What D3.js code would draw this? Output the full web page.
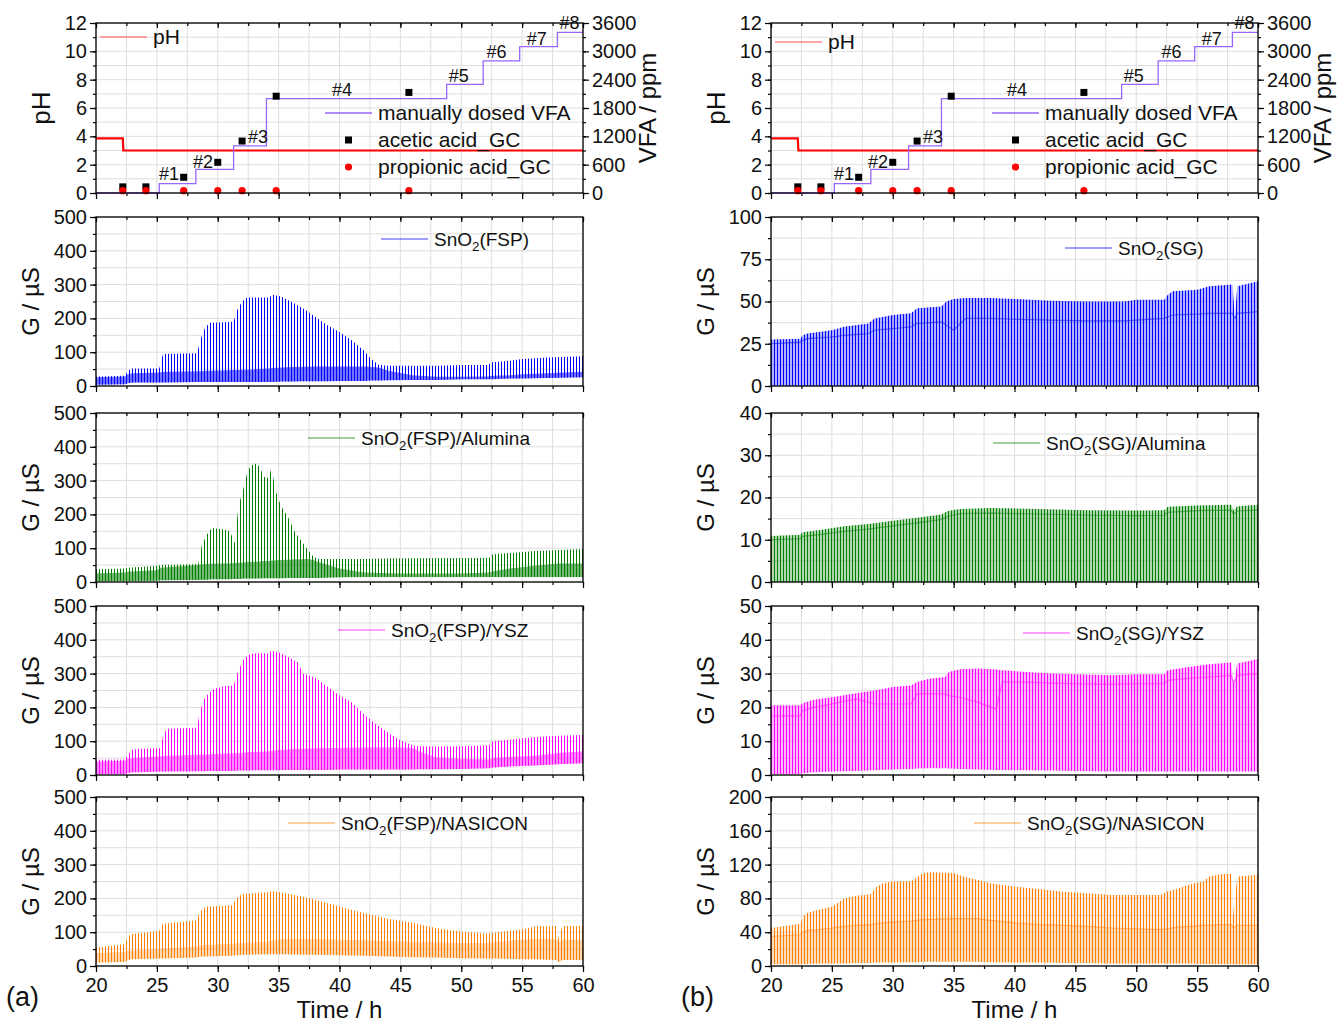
<!DOCTYPE html>
<html>
<head>
<meta charset="utf-8">
<script src="https://cdn.jsdelivr.net/npm/d3@7"></script>
<style>
body { margin: 0; background: #fff; }
svg { font-family: "Liberation Sans", Arial, sans-serif; }
</style>
</head>
<body>
<svg id="chart" width="1338" height="1023"></svg>
<script>
// ---- data ----
var timeTicks = [20, 25, 30, 35, 40, 45, 50, 55, 60];

// pH of the reactor and dosed VFA (ppm)
var phTrace = [[20, 3.85], [22.2, 3.85], [22.25, 3.0], [60, 3.0]];
var vfaSteps = [[20, 0], [25.2, 200], [28.2, 500], [31.3, 1000], [34.0, 2000],
                [48.8, 2300], [51.8, 2800], [54.8, 3100], [57.9, 3400], [60, 3400]];
var doseLabels = [["#1", 26.0, 1.4], ["#2", 28.8, 2.2], ["#3", 33.3, 4.0], ["#4", 40.2, 7.3],
                  ["#5", 49.8, 8.3], ["#6", 52.9, 10.0], ["#7", 56.2, 10.9], ["#8", 58.9, 12.0]];
var aceticGC = [[22.2, 130], [24.1, 130], [27.2, 333], [30.0, 650], [32.0, 1100], [34.8, 2050], [45.7, 2130]];
var propionicGC = [[22.2, 50], [24.1, 50], [27.2, 50], [30.0, 50], [32.0, 50], [34.8, 50], [45.7, 50]];

// sensor signals: [time, spike top, dense band top, baseline]
var fspBare = [
  [20, 28, 26, 4], [22.4, 30, 28, 5], [22.6, 45, 35, 8], [23.0, 52, 38, 10], [25.2, 52, 40, 10],
  [25.5, 95, 42, 10], [28.3, 97, 44, 12], [28.6, 140, 44, 12], [29.0, 175, 45, 12], [29.4, 187, 45, 12],
  [31.3, 190, 47, 12], [31.6, 225, 47, 12], [32.0, 250, 48, 12], [32.4, 262, 48, 12], [34.2, 262, 52, 12],
  [34.5, 270, 53, 12], [35.2, 265, 55, 13], [36.0, 250, 56, 13], [37.0, 230, 57, 14], [38.0, 205, 58, 14],
  [39.0, 180, 58, 14], [40.0, 160, 58, 15], [41.0, 135, 58, 15], [42.0, 105, 58, 15], [42.6, 80, 57, 16],
  [43.2, 63, 55, 16], [44.0, 60, 45, 17], [46.0, 60, 32, 18], [48.0, 60, 27, 18], [50.0, 62, 27, 20],
  [52.2, 62, 28, 20], [52.5, 70, 30, 20], [54.0, 75, 32, 22], [55.0, 80, 35, 22], [57.0, 84, 38, 24],
  [60.0, 88, 42, 26]];
var fspAlumina = [
  [20, 38, 25, 2], [22.4, 40, 28, 3], [22.6, 42, 30, 3], [25.0, 48, 35, 4], [25.3, 50, 42, 5],
  [28.4, 53, 50, 6], [28.7, 110, 52, 7], [29.1, 140, 53, 7], [29.5, 160, 54, 8], [30.5, 155, 55, 8],
  [31.0, 150, 55, 8], [31.4, 115, 56, 9], [31.7, 225, 57, 9], [32.1, 275, 58, 10], [32.4, 320, 59, 10],
  [32.7, 345, 60, 10], [33.1, 350, 60, 10], [33.5, 340, 61, 10], [33.7, 312, 62, 11], [34.2, 308, 62, 11],
  [34.4, 338, 63, 11], [34.8, 265, 64, 11], [35.2, 225, 65, 11], [35.8, 190, 66, 12], [36.3, 150, 67, 12],
  [36.8, 125, 67, 12], [37.3, 100, 68, 12], [37.8, 78, 66, 12], [38.2, 68, 60, 12], [40.0, 68, 40, 14],
  [42.0, 68, 28, 15], [45.0, 70, 25, 15], [50.0, 71, 25, 15], [52.3, 72, 28, 15], [52.6, 82, 32, 15],
  [54.0, 86, 40, 15], [56.0, 92, 48, 15], [58.0, 95, 55, 15], [60.0, 98, 55, 15]];
var fspYsz = [
  [20, 45, 40, 2], [22.4, 46, 42, 3], [22.6, 60, 48, 6], [23.0, 75, 50, 8], [23.5, 78, 52, 8],
  [25.3, 79, 55, 10], [25.5, 115, 56, 10], [25.8, 137, 57, 10], [28.3, 140, 60, 11], [28.5, 180, 60, 11],
  [28.8, 220, 61, 11], [29.2, 240, 61, 12], [29.7, 255, 62, 12], [30.6, 263, 63, 12], [31.3, 265, 64, 12],
  [31.7, 310, 65, 13], [32.1, 340, 66, 13], [32.5, 355, 67, 13], [33.0, 360, 68, 14], [34.2, 360, 70, 14],
  [34.4, 368, 72, 14], [35.0, 363, 74, 14], [35.5, 355, 75, 15], [36.0, 345, 76, 15], [36.6, 333, 77, 15],
  [37.0, 300, 78, 15], [38.0, 288, 79, 15], [39.0, 262, 80, 15], [40.0, 235, 80, 16], [41.0, 215, 81, 16],
  [42.0, 180, 81, 16], [43.0, 150, 82, 16], [44.0, 125, 82, 16], [45.0, 103, 82, 16], [46.0, 88, 80, 16],
  [46.5, 85, 70, 17], [48.0, 84, 52, 17], [50.0, 85, 48, 18], [52.3, 88, 46, 20], [52.6, 100, 50, 22],
  [54.0, 105, 53, 25], [56.0, 112, 57, 28], [58.0, 116, 65, 32], [60.0, 118, 70, 35]];
var fspNasicon = [
  [20, 55, 38, 10], [22.4, 65, 42, 12], [22.6, 88, 45, 18], [23.0, 95, 46, 20], [25.2, 104, 50, 22],
  [25.5, 125, 52, 22], [28.3, 135, 58, 25], [28.5, 160, 60, 27], [29.0, 175, 62, 28], [31.2, 180, 66, 30],
  [31.5, 200, 67, 32], [32.0, 213, 68, 33], [34.0, 218, 72, 35], [34.5, 222, 76, 35], [35.5, 216, 80, 35],
  [37.0, 205, 80, 33], [38.0, 196, 80, 33], [40.0, 176, 78, 32], [42.0, 157, 76, 30], [44.0, 140, 74, 28],
  [46.0, 128, 72, 26], [48.0, 112, 70, 25], [50.0, 102, 68, 23], [52.0, 96, 68, 22], [53.0, 100, 72, 22],
  [55.0, 108, 78, 20], [56.0, 117, 80, 20], [57.8, 118, 80, 18], [58.0, 80, 70, 12], [58.3, 118, 78, 18],
  [60.0, 118, 78, 18]];
var sgBare = [
  [20, 27.5, 25, 0], [22.4, 28, 26, 0], [22.6, 30, 27, 0], [23.0, 31, 28, 0], [25.0, 33, 29, 0],
  [26.0, 35, 30, 0], [28.0, 37, 31, 0], [28.5, 40, 33, 0.5], [30.0, 42, 34, 0.5], [31.5, 43, 35, 0.5],
  [32.0, 46, 37, 0.5], [34.0, 47, 38, 0.5], [34.4, 50, 36, 0.5], [35.0, 51.5, 33, 0.5], [36.0, 52, 40, 0.5],
  [38.0, 52, 40, 0.5], [40.0, 51.5, 39.5, 0.5], [43.0, 50.5, 39, 0.5], [46.0, 50, 38.5, 0.5], [49.0, 50, 38.5, 0.5],
  [50.0, 51, 39, 0.5], [52.3, 51, 40, 0.5], [52.6, 54, 41, 0.5], [53.0, 56, 42, 0.5], [55.0, 57, 42.5, 0.5],
  [56.0, 59, 43, 0.5], [57.9, 60, 43, 0.5], [58.1, 40, 40, 0.5], [58.3, 59, 43, 0.5], [60.0, 62, 44, 0.5]];
var sgAlumina = [
  [20, 10.9, 10, 0], [22.4, 11.2, 10.3, 0], [22.6, 11.8, 10.8, 0], [24.0, 12.3, 11.2, 0], [26.0, 13.2, 12, 0],
  [28.0, 13.7, 12.5, 0], [30.0, 14.5, 13.3, 0], [32.0, 15.2, 14, 0], [34.0, 16.0, 14.8, 0], [34.5, 16.8, 15.5, 0],
  [35.5, 17.3, 16.2, 0], [38.0, 17.5, 16.3, 0], [42.0, 17.3, 16.1, 0], [46.0, 17.0, 15.8, 0], [50.0, 16.9, 15.7, 0],
  [52.3, 17.0, 15.8, 0], [52.6, 17.8, 16.5, 0], [55.0, 18.1, 16.9, 0], [57.8, 18.3, 17, 0], [58.0, 17.0, 16, 0],
  [58.3, 17.9, 16.8, 0], [60.0, 18.3, 17, 0]];
var sgYsz = [
  [20, 20.6, 17.5, 0.3], [22.4, 20.6, 17.5, 0.3], [22.6, 21.2, 19, 0.5], [23.5, 22.3, 20, 0.8], [25.0, 23.0, 21, 1.0],
  [27.0, 24.2, 22.5, 1.2], [28.5, 25.0, 21, 1.4], [30.0, 26.0, 21, 1.6], [31.5, 26.5, 21, 1.8], [32.0, 27.5, 24, 1.9],
  [33.0, 28.5, 24, 2.0], [34.3, 29.0, 24, 2.0], [34.6, 30.5, 23.5, 1.9], [35.5, 31.3, 23, 1.8], [37.0, 31.5, 21.5, 1.6],
  [38.5, 31.2, 19.5, 1.5], [39.0, 31.0, 27.5, 1.5], [41.0, 30.5, 27.5, 1.4], [43.0, 30.0, 27.2, 1.3], [45.0, 29.8, 27, 1.2],
  [48.0, 29.5, 26.8, 1.0], [50.0, 29.8, 27, 1.0], [52.3, 29.8, 27, 1.0], [52.6, 31.0, 28, 1.0], [54.0, 31.8, 28.5, 1.0],
  [56.0, 32.8, 29, 1.0], [57.8, 33.3, 29.5, 1.0], [58.0, 27.0, 27, 1.0], [58.3, 33.0, 29.5, 1.0], [60.0, 34.3, 30, 1.0]];
var sgNasicon = [
  [20, 45, 35, 2], [22.4, 50, 37, 2], [22.6, 58, 40, 2.5], [23.0, 63, 42, 2.5], [24.0, 67, 43, 3],
  [25.0, 70, 45, 3], [25.5, 75, 46, 3], [26.0, 80, 47, 3], [27.0, 83, 48, 3.5], [28.2, 85, 49, 3.5],
  [28.6, 93, 50, 4], [29.2, 98, 51, 4], [30.0, 100, 52, 4], [31.5, 100, 53, 4.5], [32.0, 105, 54, 4.5],
  [32.5, 110, 55, 5], [33.0, 111, 55, 5], [35.0, 110, 56, 5], [36.0, 105, 56, 5], [37.0, 102, 56, 5],
  [38.0, 98, 54, 4.5], [40.0, 94, 51, 4], [42.0, 91, 49, 4], [44.0, 88, 48, 3.5], [46.0, 86, 47, 3.5],
  [48.0, 84, 45, 3], [50.0, 84, 44, 3], [52.0, 84, 43, 3], [52.5, 88, 44, 3], [53.5, 92, 46, 3],
  [54.5, 97, 47, 3], [55.5, 100, 48, 2.5], [56.0, 106, 48, 2.5], [57.0, 109, 49, 2.5], [57.8, 109, 49, 2.5],
  [58.0, 60, 45, 2], [58.3, 106, 48, 2], [60.0, 108, 48, 2]];

var fspNames = ["SnO2(FSP)", "SnO2(FSP)/Alumina", "SnO2(FSP)/YSZ", "SnO2(FSP)/NASICON"];
var sgNames = ["SnO2(SG)", "SnO2(SG)/Alumina", "SnO2(SG)/YSZ", "SnO2(SG)/NASICON"];
var fspTicks = [0, 100, 200, 300, 400, 500];
var sgTicks = [[0, 25, 50, 75, 100], [0, 10, 20, 30, 40], [0, 10, 20, 30, 40, 50], [0, 40, 80, 120, 160, 200]];

// ---- layout ----
var svg = d3.select("#chart");
var defs = svg.append("defs");
var rows = [[23, 193], [217, 386], [413, 582], [606, 775], [797, 966]];
var colors = ["#0000ff", "#008000", "#ff00ff", "#ff8000"];
var FONT = "Liberation Sans, Arial, sans-serif";

var columns = [
  { x0: 96, x1: 583, tag: "(a)", data: [fspBare, fspAlumina, fspYsz, fspNasicon], names: fspNames,
    ticks: [fspTicks, fspTicks, fspTicks, fspTicks], tint: [0, 0, 0, 0], band: [0.55, 0.55, 0.45, 0.3], midLine: false,
    legends: [[381, 239], [308, 438], [338, 630], [288, 823]], topLeg: [37, 229] },
  { x0: 771, x1: 1258, tag: "(b)", data: [sgBare, sgAlumina, sgYsz, sgNasicon], names: sgNames,
    ticks: sgTicks, tint: [0.3, 0.3, 0.28, 0.12], band: [0, 0, 0, 0.15], midLine: true,
    legends: [[1065, 248], [993, 443], [1023, 633], [974, 823]], topLeg: [42, 221] }
];

function styleAxis(g, size) {
  g.attr("font-size", size).attr("font-family", FONT);
  g.select(".domain").remove();
  g.selectAll("line").attr("stroke", "#000").attr("stroke-width", 1.2);
  g.selectAll("text").attr("fill", "#111");
}

function drawFrame(g, w, h, y, majors, minors, showX, x) {
  var minorX = d3.range(20, 60.01, 2.5);
  // grid
  g.append("g").selectAll("line.vg").data(minorX).enter().append("line")
    .attr("x1", function(d) { return x(d); }).attr("x2", function(d) { return x(d); })
    .attr("y1", 0).attr("y2", h).attr("stroke", "#dedede").attr("stroke-width", 1);
  g.append("g").selectAll("line.hg").data(minors).enter().append("line")
    .attr("x1", 0).attr("x2", w)
    .attr("y1", function(d) { return y(d); }).attr("y2", function(d) { return y(d); })
    .attr("stroke", "#dedede").attr("stroke-width", 1);

  var ax = g.append("g").attr("class", "axes");
  ax.append("g").call(d3.axisLeft(y).tickValues(majors).tickSize(6).tickPadding(3)).call(styleAxis, 20);
  ax.append("g").call(d3.axisLeft(y).tickValues(minors).tickSize(3).tickFormat("")).call(styleAxis, 20);
  var xb = d3.axisBottom(x).tickValues(timeTicks).tickSize(6).tickPadding(6);
  if (!showX) xb.tickFormat("");
  ax.append("g").attr("transform", "translate(0," + h + ")").call(xb).call(styleAxis, 20);
  ax.append("g").attr("transform", "translate(0," + h + ")")
    .call(d3.axisBottom(x).tickValues(minorX).tickSize(3).tickFormat("")).call(styleAxis, 20);
  ax.append("g").call(d3.axisBottom(x).tickValues(timeTicks).tickSize(5).tickFormat("")).call(styleAxis, 20);
  ax.append("g").call(d3.axisBottom(x).tickValues(minorX).tickSize(3).tickFormat("")).call(styleAxis, 20);
  return ax;
}

function subLabel(sel, label) {
  var i = label.indexOf("2");
  sel.append("tspan").text(label.slice(0, i));
  sel.append("tspan").text("2").attr("font-size", "0.7em").attr("dy", 5);
  sel.append("tspan").text(label.slice(i + 1)).attr("dy", -5);
}

columns.forEach(function(col, ci) {
  var w = col.x1 - col.x0;
  var x = d3.scaleLinear().domain([20, 60]).range([0, w]);

  // ---- top panel: pH + VFA ----
  var top = rows[0][0], h0 = rows[0][1] - rows[0][0];
  var gp = svg.append("g").attr("transform", "translate(" + col.x0 + "," + top + ")");
  var yPh = d3.scaleLinear().domain([0, 12]).range([h0, 0]);
  var yVfa = d3.scaleLinear().domain([0, 3600]).range([h0, 0]);
  var axp = drawFrame(gp, w, h0, yPh, [0, 2, 4, 6, 8, 10, 12], d3.range(0, 12.01, 1), false, x);
  axp.append("g").attr("transform", "translate(" + w + ",0)")
    .call(d3.axisRight(yVfa).tickValues(d3.range(0, 3601, 600)).tickSize(6).tickPadding(3).tickFormat(d3.format("d")))
    .call(styleAxis, 20);
  axp.append("g").attr("transform", "translate(" + w + ",0)")
    .call(d3.axisRight(yVfa).tickValues(d3.range(0, 3601, 300)).tickSize(3).tickFormat("")).call(styleAxis, 20);

  gp.append("path").datum(phTrace)
    .attr("d", d3.line().x(function(d) { return x(d[0]); }).y(function(d) { return yPh(d[1]); }))
    .attr("fill", "none").attr("stroke", "#ff0000").attr("stroke-width", 2.2);
  gp.append("path").datum(vfaSteps)
    .attr("d", d3.line().curve(d3.curveStepAfter).x(function(d) { return x(d[0]); }).y(function(d) { return yVfa(d[1]); }))
    .attr("fill", "none").attr("stroke", "#9966ff").attr("stroke-width", 1.3);
  gp.selectAll("rect.ac").data(aceticGC).enter().append("rect")
    .attr("x", function(d) { return x(d[0]) - 3.5; }).attr("y", function(d) { return yVfa(d[1]) - 3.5; })
    .attr("width", 7).attr("height", 7).attr("fill", "#000");
  gp.selectAll("circle.pr").data(propionicGC).enter().append("circle")
    .attr("cx", function(d) { return x(d[0]); }).attr("cy", function(d) { return yVfa(d[1]); })
    .attr("r", 3.6).attr("fill", "#ff0000");
  gp.selectAll("text.dose").data(doseLabels).enter().append("text")
    .attr("x", function(d) { return x(d[1]); }).attr("y", function(d) { return yPh(d[2]); })
    .attr("dy", "0.36em").attr("text-anchor", "middle").attr("font-size", 18).attr("fill", "#111")
    .text(function(d) { return d[0]; });
  gp.append("rect").attr("width", w).attr("height", h0).attr("fill", "none").attr("stroke", "#000").attr("stroke-width", 1.3);

  // legend of top panel
  var ly = col.topLeg[0], lx = col.topLeg[1];
  gp.append("line").attr("x1", 4).attr("x2", 51).attr("y1", ly - top).attr("y2", ly - top)
    .attr("stroke", "#ff5050").attr("stroke-width", 1);
  gp.append("text").attr("x", 57).attr("y", ly - top + 7).attr("font-size", 21).attr("fill", "#111").text("pH");
  var leg = [["manually dosed VFA", 113], ["acetic acid_GC", 140], ["propionic acid_GC", 167]];
  leg.forEach(function(l, i) {
    var yy = l[1] - top;
    if (i === 0) gp.append("line").attr("x1", lx).attr("x2", lx + 47).attr("y1", yy).attr("y2", yy)
      .attr("stroke", "#9966ff").attr("stroke-width", 1.3);
    if (i === 1) gp.append("rect").attr("x", lx + 20).attr("y", yy - 3.5).attr("width", 7).attr("height", 7).attr("fill", "#000");
    if (i === 2) gp.append("circle").attr("cx", lx + 23.5).attr("cy", yy).attr("r", 3.6).attr("fill", "#ff0000");
    gp.append("text").attr("x", lx + 53).attr("y", yy + 7).attr("font-size", 21).attr("fill", "#111").text(l[0]);
  });

  svg.append("text").attr("transform", "translate(" + (col.x0 - 46) + "," + ((rows[0][0] + rows[0][1]) / 2) + ") rotate(-90)")
    .attr("text-anchor", "middle").attr("font-size", 26).attr("fill", "#111").text("pH");
  svg.append("text").attr("transform", "translate(" + (col.x1 + 73) + "," + ((rows[0][0] + rows[0][1]) / 2) + ") rotate(-90)")
    .attr("text-anchor", "middle").attr("font-size", 24).attr("fill", "#111").text("VFA / ppm");

  // ---- sensor panels ----
  col.data.forEach(function(data, si) {
    var r = rows[si + 1], h = r[1] - r[0];
    var ticks = col.ticks[si], step = ticks[1] - ticks[0], yMax = ticks[ticks.length - 1];
    var y = d3.scaleLinear().domain([0, yMax]).range([h, 0]);
    var g = svg.append("g").attr("transform", "translate(" + col.x0 + "," + r[0] + ")");
    var color = colors[si];
    var minors = d3.range(0, yMax + step / 4, step / 2);

    drawFrame(g, w, h, y, ticks, minors, si === 3, x);

    // vertical stripe pattern = the fast heating cycles
    var pid = "cyc" + ci + si;
    var pat = defs.append("pattern").attr("id", pid).attr("patternUnits", "userSpaceOnUse")
      .attr("width", 3).attr("height", 6);
    pat.append("rect").attr("width", 3).attr("height", 6).attr("fill", color).attr("opacity", col.tint[si]);
    pat.append("rect").attr("width", 1).attr("height", 6).attr("fill", color);

    g.append("path").datum(data)
      .attr("d", d3.area().x(function(d) { return x(d[0]); })
        .y0(function(d) { return y(d[3]); }).y1(function(d) { return y(d[1]); }))
      .attr("fill", "url(#" + pid + ")");
    g.append("path").datum(data)
      .attr("d", d3.area().x(function(d) { return x(d[0]); })
        .y0(function(d) { return y(d[3]); }).y1(function(d) { return y(d[2]); }))
      .attr("fill", color).attr("opacity", col.band[si]);
    if (col.midLine) {
      g.append("path").datum(data)
        .attr("d", d3.line().x(function(d) { return x(d[0]); }).y(function(d) { return y(d[2]); }))
        .attr("fill", "none").attr("stroke", color).attr("stroke-width", 1.2).attr("opacity", 0.5);
    }
    g.append("rect").attr("width", w).attr("height", h).attr("fill", "none").attr("stroke", "#000").attr("stroke-width", 1.3);
    g.select(".axes").raise();

    // legend
    var lg = col.legends[si];
    svg.append("line").attr("x1", lg[0]).attr("x2", lg[0] + 47).attr("y1", lg[1]).attr("y2", lg[1])
      .attr("stroke", color).attr("stroke-width", 1.2).attr("opacity", 0.75);
    var t = svg.append("text").attr("x", lg[0] + 53).attr("y", lg[1] + 7).attr("font-size", 19).attr("fill", "#111");
    subLabel(t, col.names[si]);

    svg.append("text").attr("transform", "translate(" + (col.x0 - 57) + "," + ((r[0] + r[1]) / 2) + ") rotate(-90)")
      .attr("text-anchor", "middle").attr("font-size", 24).attr("fill", "#111").text("G / µS");
  });

  svg.append("text").attr("x", (col.x0 + col.x1) / 2).attr("y", 1018).attr("text-anchor", "middle")
    .attr("font-size", 24).attr("fill", "#111").text("Time / h");
  svg.append("text").attr("x", col.x0 - 90).attr("y", 1006).attr("font-size", 27).attr("fill", "#111").text(col.tag);
});
</script>
</body>
</html>
